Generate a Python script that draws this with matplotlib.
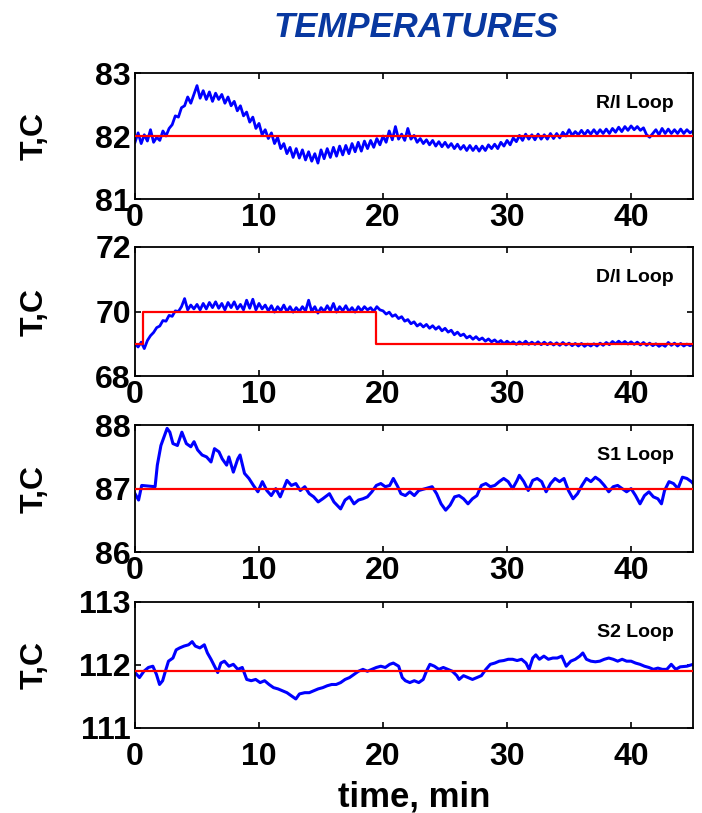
import numpy as np
import matplotlib
matplotlib.use("Agg")
import matplotlib.pyplot as plt

# --------------------
# Data (minutes, deg C)
# --------------------
# R/I loop, sampled every 0.25 min from 0 to 45
ri_temp = [
    81.90, 82.05, 81.88, 82.02, 81.92, 82.10, 81.90, 81.98, 81.93, 82.08, 82.00, 82.12,
    82.18, 82.32, 82.30, 82.45, 82.48, 82.62, 82.52, 82.66, 82.80, 82.60, 82.72, 82.58,
    82.70, 82.55, 82.68, 82.58, 82.66, 82.52, 82.62, 82.48, 82.55, 82.40, 82.48, 82.32,
    82.38, 82.22, 82.30, 82.12, 82.20, 82.02, 82.10, 81.96, 82.05, 81.88, 81.98, 81.80,
    81.88, 81.72, 81.82, 81.66, 81.80, 81.65, 81.78, 81.62, 81.75, 81.60, 81.72, 81.57,
    81.78, 81.64, 81.80, 81.66, 81.82, 81.68, 81.84, 81.70, 81.85, 81.72, 81.88, 81.75,
    81.90, 81.76, 81.92, 81.80, 81.93, 81.82, 81.96, 81.86, 82.00, 81.90, 82.08, 81.94,
    82.15, 81.95, 82.03, 81.93, 82.12, 81.95, 82.01, 81.90, 81.96, 81.88, 81.94, 81.86,
    81.93, 81.84, 81.91, 81.83, 81.90, 81.82, 81.88, 81.80, 81.87, 81.79, 81.85, 81.77,
    81.85, 81.77, 81.84, 81.76, 81.84, 81.77, 81.86, 81.80, 81.87, 81.80, 81.90, 81.84,
    81.93, 81.86, 81.97, 81.91, 82.01, 81.93, 82.03, 81.95, 82.02, 81.94, 82.03, 81.95,
    82.02, 81.95, 82.04, 81.96, 82.04, 81.97, 82.06, 82.00, 82.10, 82.01, 82.07, 82.02,
    82.09, 82.02, 82.09, 82.03, 82.10, 82.03, 82.10, 82.04, 82.11, 82.04, 82.12, 82.06,
    82.14, 82.07, 82.15, 82.09, 82.16, 82.10, 82.15, 82.09, 82.13, 82.02, 81.98, 82.04,
    82.10, 82.02, 82.12, 82.04, 82.11, 82.04, 82.10, 82.04, 82.11, 82.04, 82.10, 82.05,
    82.08,
]
ri_set = 82.0

# D/I loop, sampled every 0.25 min from 0 to 45
di_temp = [
    69.00, 68.90, 69.05, 68.85, 69.10, 69.25, 69.35, 69.50, 69.55, 69.72, 69.70, 69.88,
    69.85, 70.02, 70.00, 70.15, 70.40, 70.05, 70.20, 70.08, 70.22, 70.05, 70.25, 70.08,
    70.28, 70.12, 70.30, 70.10, 70.25, 70.05, 70.28, 70.12, 70.30, 70.08, 70.22, 70.05,
    70.35, 70.10, 70.38, 70.05, 70.25, 70.08, 70.20, 70.02, 70.18, 69.98, 70.15, 70.02,
    70.20, 70.00, 70.15, 69.98, 70.12, 70.00, 70.15, 70.02, 70.35, 70.00, 70.15, 69.95,
    70.12, 70.00, 70.18, 70.02, 70.25, 69.98, 70.15, 70.02, 70.18, 70.00, 70.12, 69.98,
    70.15, 70.02, 70.15, 70.05, 70.12, 70.00, 70.15, 70.05, 70.02, 69.92, 69.98, 69.85,
    69.90, 69.78, 69.84, 69.70, 69.75, 69.62, 69.68, 69.55, 69.62, 69.52, 69.60, 69.48,
    69.56, 69.45, 69.53, 69.40, 69.48, 69.36, 69.42, 69.28, 69.36, 69.25, 69.30, 69.18,
    69.24, 69.14, 69.22, 69.12, 69.18, 69.08, 69.15, 69.06, 69.12, 69.03, 69.10, 69.00,
    69.08, 69.00, 69.06, 68.98, 69.06, 68.99, 69.08, 68.98, 69.05, 68.98, 69.06, 68.97,
    69.05, 68.97, 69.04, 68.96, 69.03, 68.95, 69.04, 68.96, 69.02, 68.94, 69.01, 68.93,
    69.01, 68.92, 68.99, 68.93, 69.00, 68.93, 69.02, 68.95, 69.04, 68.97, 69.07, 69.00,
    69.08, 69.00, 69.07, 68.99, 69.06, 68.98, 69.05, 68.96, 69.04, 68.95, 69.02, 68.94,
    69.00, 68.92, 68.98, 68.92, 69.04, 68.95, 69.02, 68.93, 69.01, 68.93, 68.99, 68.94,
    68.98,
]
di_set_time = [0, 0.65, 19.45, 45]
di_set_val = [69, 70, 69, 69]

# S1 loop
s1_time = [
    0.0, 0.29, 0.54, 1.62, 1.8, 2.09, 2.59, 2.81, 3.06, 3.42, 3.78, 4.14, 4.5, 4.76,
    5.05, 5.41, 5.77, 6.13, 6.41, 6.77, 7.03, 7.39, 7.57, 7.93, 8.29, 8.47, 8.83, 9.19,
    9.55, 9.91, 10.27, 10.63, 10.99, 11.35, 11.71, 12.25, 12.61, 12.97, 13.33, 13.69,
    14.05, 14.41, 14.77, 15.14, 15.68, 16.04, 16.58, 16.94, 17.3, 17.66, 18.02, 18.38,
    18.74, 19.1, 19.46, 19.82, 20.18, 20.54, 20.83, 21.19, 21.44, 21.8, 22.16, 22.52,
    22.88, 23.42, 23.96, 24.32, 24.68, 25.05, 25.41, 25.77, 26.13, 26.49, 26.85, 27.21,
    27.57, 27.93, 28.29, 28.65, 29.01, 29.37, 29.73, 30.09, 30.45, 30.81, 30.99, 31.35,
    31.71, 32.07, 32.43, 32.79, 33.15, 33.51, 33.87, 34.23, 34.59, 34.95, 35.32, 35.68,
    36.04, 36.4, 36.76, 37.12, 37.48, 37.84, 38.2, 38.56, 38.92, 39.28, 39.64, 40.0,
    40.36, 40.72, 41.08, 41.44, 41.8, 42.16, 42.45, 42.7, 43.06, 43.42, 43.78, 44.14,
    44.5, 44.86, 45.0,
]
s1_temp = [
    86.92, 86.82, 87.05, 87.03, 87.37, 87.68, 87.95, 87.89, 87.71, 87.68, 87.89, 87.71,
    87.66, 87.74, 87.61, 87.53, 87.50, 87.42, 87.63, 87.58, 87.47, 87.37, 87.50, 87.26,
    87.47, 87.53, 87.24, 87.16, 87.05, 86.95, 87.11, 86.97, 86.89, 87.00, 86.87, 87.13,
    87.05, 87.08, 86.97, 87.03, 86.92, 86.87, 86.79, 86.84, 86.92, 86.79, 86.68, 86.82,
    86.87, 86.76, 86.82, 86.84, 86.87, 86.95, 87.05, 87.08, 87.03, 87.05, 87.16, 87.03,
    86.92, 86.89, 86.95, 86.89, 86.97, 87.00, 87.03, 86.92, 86.76, 86.66, 86.74, 86.87,
    86.89, 86.84, 86.76, 86.84, 86.89, 87.05, 87.08, 87.03, 87.05, 87.11, 87.16, 87.11,
    87.00, 87.13, 87.21, 87.11, 86.97, 87.13, 87.16, 87.11, 86.95, 87.08, 87.16, 87.11,
    87.16, 86.97, 86.84, 86.92, 87.05, 87.16, 87.11, 87.18, 87.13, 87.05, 86.95, 87.03,
    87.05, 87.00, 86.95, 87.00, 86.89, 86.76, 86.89, 86.95, 86.87, 86.84, 86.76, 86.97,
    87.11, 87.08, 87.00, 87.18, 87.16, 87.11, 87.08,
]
s1_set = 87.0

# S2 loop
s2_time = [
    0.0, 0.36, 0.72, 1.08, 1.44, 1.73, 1.98, 2.23, 2.45, 2.7, 3.06, 3.32, 3.6, 3.96,
    4.32, 4.61, 4.86, 5.23, 5.59, 5.84, 6.13, 6.41, 6.67, 6.92, 7.21, 7.57, 7.93, 8.29,
    8.65, 9.01, 9.37, 9.73, 10.09, 10.45, 10.81, 11.17, 11.53, 11.89, 12.25, 12.61,
    12.97, 13.26, 13.69, 14.05, 14.41, 14.77, 15.14, 15.5, 15.86, 16.22, 16.58, 16.94,
    17.3, 17.66, 18.02, 18.38, 18.74, 19.1, 19.46, 19.82, 20.18, 20.54, 20.83, 21.26,
    21.55, 21.8, 22.16, 22.52, 22.88, 23.24, 23.5, 23.78, 24.14, 24.5, 24.86, 25.23,
    25.59, 25.95, 26.13, 26.49, 26.85, 27.21, 27.57, 27.93, 28.29, 28.65, 29.01, 29.37,
    29.73, 30.09, 30.45, 30.81, 31.17, 31.53, 31.78, 32.07, 32.32, 32.61, 32.97, 33.33,
    33.69, 34.05, 34.41, 34.77, 35.14, 35.5, 35.86, 36.11, 36.4, 36.76, 37.12, 37.48,
    37.84, 38.2, 38.56, 38.92, 39.28, 39.64, 40.0, 40.36, 40.72, 41.08, 41.44, 41.8,
    42.16, 42.52, 42.88, 43.24, 43.6, 43.96, 44.5, 45.0,
]
s2_temp = [
    111.88, 111.80, 111.90, 111.96, 111.98, 111.85, 111.69, 111.75, 111.90, 112.06,
    112.11, 112.24, 112.27, 112.30, 112.32, 112.37, 112.30, 112.27, 112.32, 112.19,
    112.09, 111.98, 111.88, 112.03, 112.06, 111.98, 112.01, 111.93, 111.96, 111.77,
    111.75, 111.77, 111.72, 111.75, 111.69, 111.64, 111.62, 111.59, 111.56, 111.51,
    111.46, 111.54, 111.56, 111.56, 111.59, 111.62, 111.64, 111.67, 111.69, 111.69,
    111.72, 111.77, 111.80, 111.85, 111.90, 111.93, 111.90, 111.93, 111.96, 111.98,
    111.96, 112.01, 112.03, 111.98, 111.80, 111.75, 111.72, 111.75, 111.72, 111.77,
    111.90, 112.01, 111.98, 111.93, 111.96, 111.93, 111.90, 111.83, 111.77, 111.83,
    111.80, 111.77, 111.80, 111.83, 111.93, 112.01, 112.03, 112.06, 112.07, 112.09,
    112.09, 112.07, 112.09, 112.03, 111.93, 112.11, 112.16, 112.09, 112.14, 112.09,
    112.11, 112.11, 112.14, 111.98, 112.06, 112.09, 112.14, 112.19, 112.09, 112.06,
    112.05, 112.06, 112.09, 112.11, 112.09, 112.06, 112.09, 112.06, 112.06, 112.03,
    112.01, 111.98, 111.96, 111.93, 111.95, 111.93, 111.93, 112.01, 111.93, 111.97,
    111.98, 112.01,
]
s2_set = 111.9

loop_names = ['R/I Loop', 'D/I Loop', 'S1 Loop', 'S2 Loop']
y_ticks = [[81, 82, 83], [68, 70, 72], [86, 87, 88], [111, 112, 113]]
x_ticks = [0, 10, 20, 30, 40]

# sampling grid for the two densely sampled loops
grid = np.arange(0, 45.01, 0.25)

plt.rcParams['font.family'] = ['Liberation Sans', 'DejaVu Sans']
plt.rcParams['font.weight'] = 'bold'
plt.rcParams['font.size'] = 23

fig = plt.figure(figsize=(7.02, 8.13), dpi=100)

# axes rectangles in figure fractions (left, bottom, width, height)
boxes = [
    [0.1923, 0.7552, 0.795, 0.155],
    [0.1923, 0.5375, 0.795, 0.1587],
    [0.1923, 0.3210, 0.795, 0.156],
    [0.1923, 0.1046, 0.795, 0.155],
]
axes = [fig.add_axes(b) for b in boxes]

# R/I
axes[0].plot(grid, ri_temp, color='blue', lw=2.0)
axes[0].axhline(ri_set, color='red', lw=1.6, zorder=3)
# D/I
axes[1].plot(grid, di_temp, color='blue', lw=2.0)
axes[1].plot(di_set_time, di_set_val, color='red', lw=1.6, drawstyle='steps-post', zorder=3)
# S1
axes[2].plot(s1_time, s1_temp, color='blue', lw=2.2)
axes[2].axhline(s1_set, color='red', lw=1.6, zorder=3)
# S2
axes[3].plot(s2_time, s2_temp, color='blue', lw=2.2)
axes[3].axhline(s2_set, color='red', lw=1.6, zorder=3)

for i, ax in enumerate(axes):
    ax.set_xlim(0, 45)
    ax.set_ylim(y_ticks[i][0], y_ticks[i][-1])
    ax.set_xticks(x_ticks)
    ax.set_yticks(y_ticks[i])
    ax.tick_params(direction='in', top=True, right=True, length=4, width=1.2,
                   labelsize=23, pad=3)
    if i == 3:
        ax.tick_params(axis='x', pad=10)
    for s in ax.spines.values():
        s.set_linewidth(1.3)
    ax.set_ylabel('T,C', fontsize=23, fontweight='bold')
    ax.yaxis.set_label_coords(-0.153, 0.5)
    ax.text(0.965, 0.76, loop_names[i], transform=ax.transAxes, ha='right',
            va='center', fontsize=14, fontweight='bold')

axes[3].set_xlabel('time, min', fontsize=25, fontweight='bold', labelpad=6)

fig.text(0.593, 0.966, 'TEMPERATURES', color='#0838a0', fontsize=25,
         fontweight='bold', fontstyle='italic', ha='center', va='center')

plt.savefig('out.png', dpi=100)
